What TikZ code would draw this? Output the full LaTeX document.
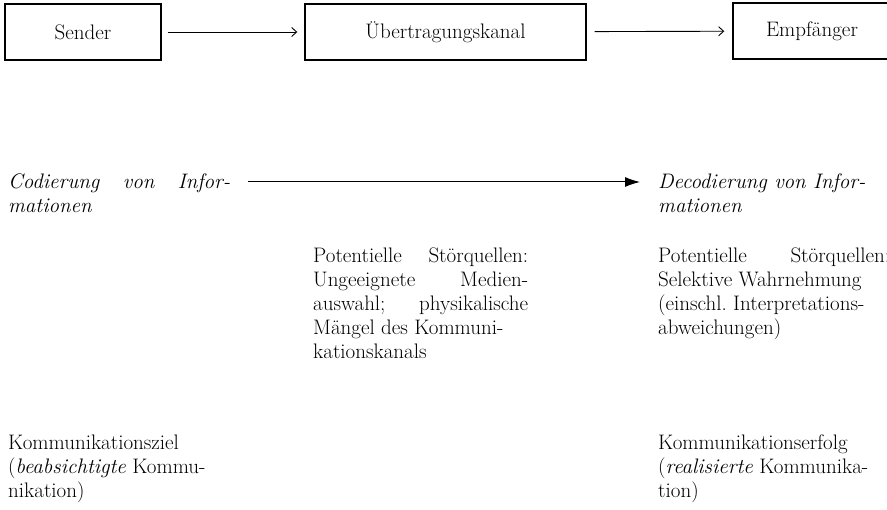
\documentclass[tikz,border=0pt]{standalone}
\usepackage{fontspec}
\usetikzlibrary{arrows.meta}

\tikzset{
	stage/.style={draw, line width=1.4pt, minimum height=56pt, inner sep=0pt, font=\fontsize{21}{24}\selectfont},
	note/.style={anchor=north west, inner sep=0pt, align=justify, font=\fontsize{21}{24}\selectfont},
	flow/.style={-{Straight Barb[length=5pt,width=9pt]}, line width=0.9pt},
	code/.style={-{Latex[length=15pt,width=10pt]}, line width=1pt}
}

\begin{document}
\begin{tikzpicture}[x=1pt,y=-1pt]
			\useasboundingbox (0,0) rectangle (887,510);
			\clip (0,0) rectangle (887,510);
			
			% Chain
			\node[stage, minimum width=156pt] (sender) at (83,32) {Sender};
			\node[stage, minimum width=281pt] (kanal) at (445.5,32) {Übertragungskanal};
			\node[stage, minimum width=158pt] (empf) at (812,31) {Empfänger};
			\draw[flow, shorten <=6pt, shorten >=7pt] (sender) -- (kanal);
			\draw[flow, shorten <=8pt, shorten >=8pt] (kanal) -- (empf);
			
			% Coding
			\node[note, text width=222pt, font=\fontsize{21}{24}\selectfont\itshape] (cod) at (8,174) {Codierung von Infor-\linebreak mationen};
			\node[note, text width=232pt, font=\fontsize{21}{24}\selectfont\itshape] (dec) at (658,174) {Decodierung von Infor-\newline mationen};
			\draw[code] ([shift={(18,8)}]cod.north east) -- ([shift={(-18,8)}]dec.north west);
			
			% Sources of noise
			\node[note, text width=215pt] (kanalstoer) at (313,248) {Potentielle Störquellen:\linebreak Ungeeignete Medien-\linebreak auswahl; physikalische\linebreak Mängel des Kommuni-\newline kationskanals};
			\node[note, text width=232pt] (empfstoer) at (658,248) {Potentielle Störquellen:\linebreak Selektive Wahrnehmung\newline (einschl.\ Interpretations-\newline abweichungen)};
			
			% Goal and result
			\node[note, align=left] (ziel) at (8,435) {Kommunikationsziel\\(\textit{beabsichtigte} Kommu-\\nikation)};
			\node[note, align=left] (erfolg) at (658,435) {Kommunikationserfolg\\(\textit{realisierte} Kommunika-\\tion)};
\end{tikzpicture}
\end{document}
